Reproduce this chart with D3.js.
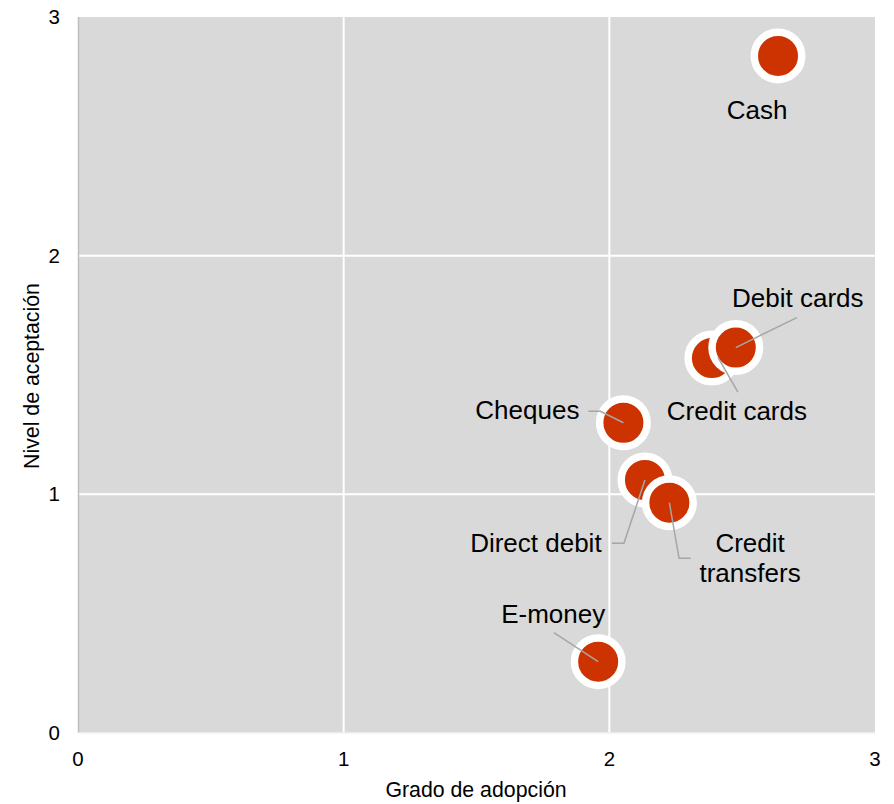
<!DOCTYPE html>
<html><head><meta charset="utf-8">
<script src="https://cdn.jsdelivr.net/npm/d3@7"></script>
<style>
body{margin:0;background:#fff;}
text{font-family:"Liberation Sans",Arial,sans-serif;fill:#000;}
</style></head>
<body><svg id="c" width="894" height="804"></svg>
<script>
const names = ["Cash","Credit cards","Debit cards","Cheques","Direct debit","Credit transfers","E-money"];
const adopcion = [2.635, 2.386, 2.476, 2.053, 2.134, 2.226, 1.958];
const aceptacion = [2.837, 1.571, 1.615, 1.300, 1.060, 0.965, 0.299];
const labelLines = [["Cash"],["Credit cards"],["Debit cards"],["Cheques"],["Direct debit"],["Credit","transfers"],["E-money"]];
const xTicks = [0,1,2,3];
const yTicks = [0,1,2,3];

// layout (pixel offsets from the point) for labels and leader lines
const labelLayout = [
  {anchor:"middle", dx:-21, dy:63, leader:null},
  {anchor:"middle", dx:25, dy:62, leader:[[6,-1],[26,34]]},
  {anchor:"middle", dx:62, dy:-41, leader:[[0,0],[61,-30]]},
  {anchor:"end", dx:-44, dy:-3.4, leader:[[0,0],[-23,-11.5],[-35,-11.5]]},
  {anchor:"end", dx:-43.3, dy:71.7, leader:[[0,0],[-21,63.3],[-33,63.3]]},
  {anchor:"middle", dx:80.7, dy:49, leader:[[0,0],[9.7,55.6],[21.4,55.6]]},
  {anchor:"middle", dx:-45, dy:-38.4, leader:[[0,0],[-44.3,-29]]}
];

const svg = d3.select("#c");
const L=78, R=875, T=17, B=733;
const x = d3.scaleLinear().domain([0,3]).range([L,R]);
const y = d3.scaleLinear().domain([0,3]).range([B,T]);

svg.append("rect").attr("x",L).attr("y",T).attr("width",R-L).attr("height",B-T).attr("fill","#d9d9d9");

const g = svg.append("g");
g.selectAll(".gx").data(xTicks.filter(d=>d>0&&d<3)).join("line")
  .attr("x1",d=>x(d)).attr("x2",d=>x(d)).attr("y1",T).attr("y2",B)
  .attr("stroke","#fff").attr("stroke-width",2);
g.selectAll(".gy").data(yTicks.filter(d=>d>0&&d<3)).join("line")
  .attr("x1",L).attr("x2",R).attr("y1",d=>y(d)).attr("y2",d=>y(d))
  .attr("stroke","#fff").attr("stroke-width",2);
// axis lines
svg.append("line").attr("x1",L+0.5).attr("x2",L+0.5).attr("y1",T).attr("y2",B).attr("stroke","#bfbfbf").attr("stroke-width",1.5);
svg.append("line").attr("x1",L).attr("x2",R).attr("y1",B).attr("y2",B).attr("stroke","#f2f2f2").attr("stroke-width",1.5);

// tick labels
svg.selectAll(".xt").data(xTicks).join("text")
  .attr("x",d=>x(d)).attr("y",766).attr("text-anchor","middle").attr("font-size",20.5).text(d=>d);
svg.selectAll(".yt").data(yTicks).join("text")
  .attr("x",60).attr("y",d=>y(d)+7).attr("text-anchor","end").attr("font-size",20.5).text(d=>d);

// axis titles
svg.append("text").attr("x",476).attr("y",797).attr("text-anchor","middle").attr("font-size",21.3).text("Grado de adopción");
svg.append("text").attr("transform","translate(39,376) rotate(-90)").attr("text-anchor","middle").attr("font-size",21.3).text("Nivel de aceptación");

const pts = names.map((n,i)=>({n, px:x(adopcion[i]), py:y(aceptacion[i]), lines:labelLines[i], lay:labelLayout[i]}));

// points
svg.selectAll(".pt").data(pts).join("circle")
  .attr("cx",d=>d.px).attr("cy",d=>d.py).attr("r",23.75)
  .attr("fill","#cc3300").attr("stroke","#fff").attr("stroke-width",7.5);

// leaders
const lineGen = d3.line();
svg.selectAll(".ld").data(pts.filter(d=>d.lay.leader)).join("path")
  .attr("d",d=>lineGen(d.lay.leader.map(p=>[d.px+p[0], d.py+p[1]])))
  .attr("fill","none").attr("stroke","#a6a6a6").attr("stroke-width",1.5);

// labels
const lbl = svg.selectAll(".lb").data(pts).join("text")
  .attr("text-anchor",d=>d.lay.anchor).attr("font-size",26)
  .attr("x",d=>d.px+d.lay.dx).attr("y",d=>d.py+d.lay.dy);
lbl.selectAll("tspan").data(d=>d.lines.map((t,k)=>({t,k,x:d.px+d.lay.dx}))).join("tspan")
  .attr("x",d=>d.x).attr("dy",d=>d.k===0?0:30).text(d=>d.t);
</script></body></html>
